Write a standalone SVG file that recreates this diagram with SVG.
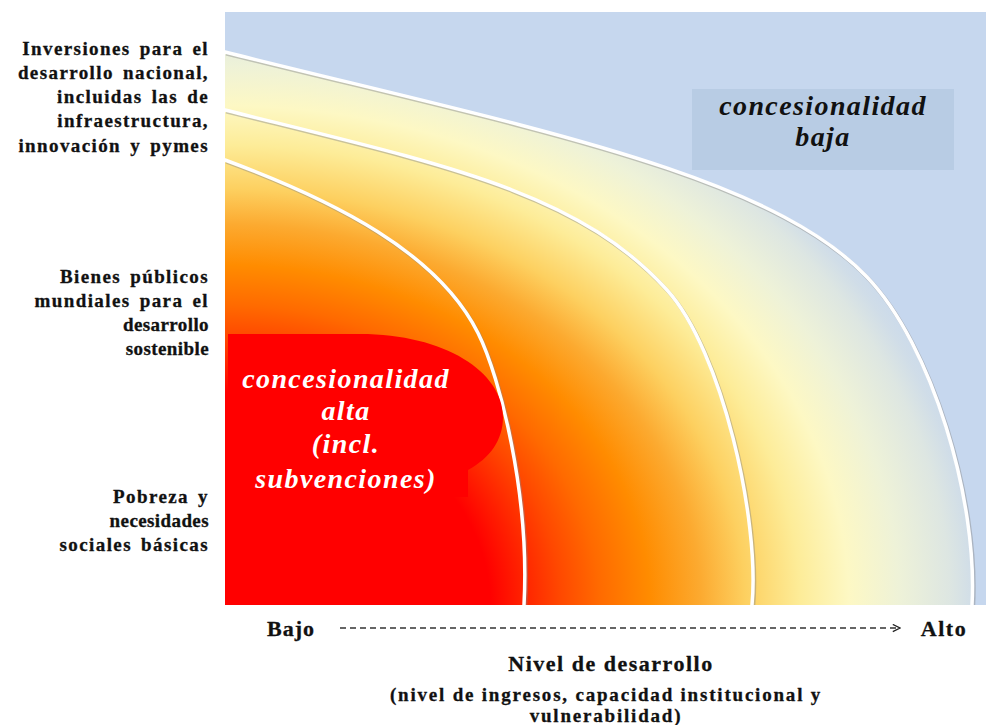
<svg xmlns="http://www.w3.org/2000/svg" width="986" height="725" viewBox="0 0 986 725">
  <defs>
    <radialGradient id="bg" gradientUnits="userSpaceOnUse" cx="225" cy="605" r="780" gradientTransform="translate(225 605) scale(1 0.8) translate(-225 -605)">
      <stop offset="0" stop-color="#ff0000"/>
      <stop offset="0.34" stop-color="#ff0000"/>
      <stop offset="0.39" stop-color="#ff2800"/>
      <stop offset="0.43" stop-color="#ff4800"/>
      <stop offset="0.48" stop-color="#ff6a00"/>
      <stop offset="0.545" stop-color="#ff8c00"/>
      <stop offset="0.61" stop-color="#fcaa30"/>
      <stop offset="0.667" stop-color="#fdd060"/>
      <stop offset="0.737" stop-color="#fdec98"/>
      <stop offset="0.80" stop-color="#fdf8c4"/>
      <stop offset="0.865" stop-color="#eef2d8"/>
      <stop offset="0.93" stop-color="#dde6e2"/>
      <stop offset="0.96" stop-color="#d0dde8"/>
      <stop offset="1" stop-color="#c6d7ee"/>
    </radialGradient>
    <marker id="arrow" viewBox="0 0 10 10" refX="9" refY="5" markerWidth="9" markerHeight="9" markerUnits="userSpaceOnUse" orient="auto">
      <path d="M1,1 L9,5 L1,9" fill="none" stroke="#222" stroke-width="1.4"/>
    </marker>
    <style>
      .lbl { font-family: "Liberation Serif", "Times New Roman", serif; font-weight: bold; font-size: 19px; letter-spacing: 1.4px; word-spacing: 3px; fill: #111; stroke: #111; stroke-width: 0.3px; text-anchor: end; }
      .tight { letter-spacing: 0.4px; }
      .axis { font-family: "Liberation Serif", "Times New Roman", serif; font-weight: bold; fill: #111; stroke: #111; stroke-width: 0.3px; text-anchor: middle; }
      .conc { font-family: "Liberation Serif", "Times New Roman", serif; font-weight: bold; font-style: italic; font-size: 28px; letter-spacing: 1.4px; text-anchor: middle; }
      .curve { fill: none; stroke: #ffffff; stroke-width: 3.5; stroke-linecap: round; }
      .shadow { fill: none; stroke: #8a8a8a; stroke-opacity: 0.45; stroke-width: 4; }
    </style>
  </defs>

  <rect x="0" y="0" width="986" height="725" fill="#ffffff"/>

  <g id="plot">
    <rect x="225" y="12" width="761" height="593" fill="url(#bg)"/>
    <path d="M225,12 H986 V605 H972 C978,500 932,345 867,277 C767,172 525,127 225,52 Z" fill="#c6d7ee"/>
    <g transform="translate(1.2 1.5)">
      <path class="shadow" d="M225,160 C335,200.7 438,253 478,333 C500,377 530,495 524,605"/>
      <path class="shadow" d="M225,110 C445,165 577,191 667,290 C722,350.5 760,520 752,605"/>
      <path class="shadow" d="M225,52 C525,127 767,172 867,277 C932,345 978,500 972,605"/>
    </g>
    <path class="curve" d="M225,160 C335,200.7 438,253 478,333 C500,377 530,495 524,605"/>
    <path class="curve" d="M225,110 C445,165 577,191 667,290 C722,350.5 760,520 752,605"/>
    <path class="curve" d="M225,52 C525,127 767,172 867,277 C932,345 978,500 972,605"/>
    <rect x="225" y="605" width="761" height="6" fill="#ffffff"/>
  </g>

  <g id="low-concessionality">
    <rect x="692" y="89" width="262" height="81" fill="#b8cce4"/>
    <text class="conc" x="823" y="115" fill="#111">concesionalidad</text>
    <text class="conc" x="823" y="146" fill="#111">baja</text>
  </g>

  <g id="high-concessionality">
    <path d="M228,334 H360 C445,334 503,372 503,417 C503,440 490,458 468,470 V497 H228 Z" fill="#ff0000"/>
    <text class="conc" x="346" y="388" fill="#ffffff">concesionalidad</text>
    <text class="conc" x="346" y="420" fill="#ffffff">alta</text>
    <text class="conc" x="346" y="453" fill="#ffffff">(incl.</text>
    <text class="conc" x="346" y="488" fill="#ffffff">subvenciones)</text>
  </g>

  <g id="label-investments">
    <text class="lbl" x="209" y="55">Inversiones para el</text>
    <text class="lbl" x="209" y="79">desarrollo nacional,</text>
    <text class="lbl" x="209" y="103">incluidas las de</text>
    <text class="lbl" x="209" y="127">infraestructura,</text>
    <text class="lbl" x="209" y="152">innovación y pymes</text>
  </g>

  <g id="label-public-goods">
    <text class="lbl" x="209" y="283">Bienes públicos</text>
    <text class="lbl" x="209" y="307">mundiales para el</text>
    <text class="lbl tight" x="209" y="331">desarrollo</text>
    <text class="lbl tight" x="209" y="355">sostenible</text>
  </g>

  <g id="label-poverty">
    <text class="lbl" x="209" y="503">Pobreza y</text>
    <text class="lbl tight" x="209" y="527">necesidades</text>
    <text class="lbl" x="209" y="551">sociales básicas</text>
  </g>

  <g id="axis-labels">
    <text class="axis" x="291" y="636" font-size="22" letter-spacing="1">Bajo</text>
    <text class="axis" x="944" y="636" font-size="22" letter-spacing="1.5">Alto</text>
    <text class="axis" x="611" y="671" font-size="22" letter-spacing="1.5">Nivel de desarrollo</text>
    <text class="axis" x="606" y="701" font-size="19" letter-spacing="1.8">(nivel de ingresos, capacidad institucional y</text>
    <text class="axis" x="606" y="722" font-size="19" letter-spacing="1.8">vulnerabilidad)</text>
  </g>

  <g id="connectors">
    <line x1="340" y1="628" x2="900" y2="628" stroke="#333" stroke-width="1.3" stroke-dasharray="6 4" marker-end="url(#arrow)"/>
  </g>
</svg>
